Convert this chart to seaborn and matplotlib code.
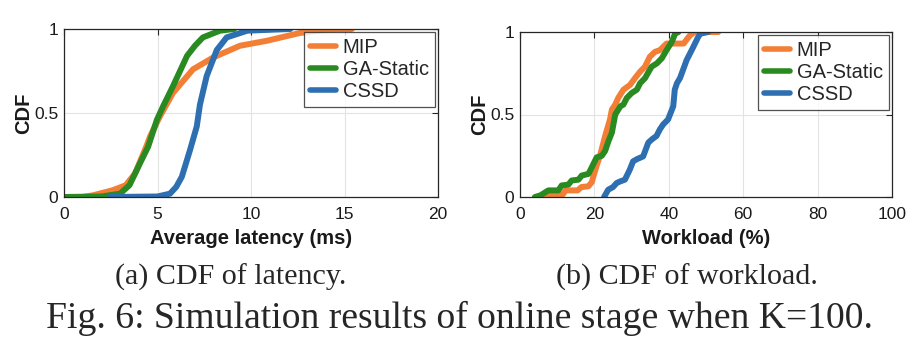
import numpy as np
import pandas as pd
import seaborn as sns
import matplotlib
matplotlib.use("Agg")
import matplotlib.pyplot as plt

# ---------------- data ----------------
methods = ["MIP", "GA-Static", "CSSD"]
colors = ["#F37F36", "#2A8A22", "#2D6FB0"]

# (a) latency CDF
lat_mip_x = [1.0, 1.55, 2.6, 3.3, 3.8, 4.4, 4.6, 5.13, 5.83, 6.9, 7.97, 9.4, 10.85, 12.6, 14.0, 15.4]
lat_mip_y = [0.0, 0.01, 0.04, 0.07, 0.14, 0.30, 0.36, 0.48, 0.62, 0.76, 0.83, 0.90, 0.93, 0.976, 0.995, 1.0]
lat_ga_x = [0.0, 2.0, 3.0, 3.5, 4.06, 4.5, 4.97, 5.3, 5.83, 6.58, 7.0, 7.43, 8.34, 9.1]
lat_ga_y = [0.0, 0.003, 0.02, 0.07, 0.20, 0.30, 0.46, 0.54, 0.66, 0.84, 0.90, 0.95, 0.99, 1.0]
lat_cssd_x = [2.46, 5.0, 5.67, 6.0, 6.3, 6.74, 7.1, 7.27, 7.63, 8.17, 8.7, 9.8, 12.1]
lat_cssd_y = [0.0, 0.003, 0.02, 0.06, 0.12, 0.28, 0.42, 0.55, 0.72, 0.875, 0.95, 0.99, 1.0]

# (b) workload CDF
wl_mip_x = [6.5, 8.0, 11.5, 12.3, 15.5, 16.5, 18.4, 19.3, 19.8, 20.6, 21.5, 22.2, 22.9, 23.4, 24.2,
            24.7, 25.6, 26.4, 27.8, 29.6, 30.9, 32.3, 33.6, 34.9, 36.3, 37.6, 39.4, 44.0, 45.0, 45.7,
            47.0, 53.3]
wl_mip_y = [0.0, 0.015, 0.015, 0.04, 0.04, 0.06, 0.065, 0.09, 0.13, 0.19, 0.25, 0.31, 0.37, 0.41, 0.47,
            0.53, 0.56, 0.60, 0.65, 0.68, 0.72, 0.76, 0.79, 0.85, 0.88, 0.89, 0.93, 0.93, 0.96, 0.98,
            1.0, 1.0]
wl_ga_x = [4.0, 5.5, 7.6, 10.3, 11.2, 13.0, 13.9, 15.7, 16.6, 18.4, 19.3, 20.6, 22.0, 22.9, 23.8, 24.7,
           25.6, 27.0, 27.8, 28.7, 30.0, 31.4, 32.3, 33.6, 34.6, 35.4, 36.8, 38.1, 39.4, 40.8, 41.7, 42.6]
wl_ga_y = [0.0, 0.01, 0.04, 0.04, 0.07, 0.075, 0.10, 0.105, 0.13, 0.14, 0.18, 0.24, 0.25, 0.28, 0.34, 0.39,
           0.50, 0.55, 0.56, 0.60, 0.63, 0.65, 0.69, 0.72, 0.76, 0.79, 0.81, 0.84, 0.89, 0.94, 0.99, 1.0]
wl_cssd_x = [22.6, 23.7, 25.0, 26.0, 27.0, 28.2, 29.5, 30.4, 31.5, 33.1, 34.5, 35.5, 36.7, 37.6, 38.5,
             39.8, 41.2, 41.6, 42.2, 43.0, 44.8, 46.6, 47.9, 48.5, 50.6]
wl_cssd_y = [0.0, 0.044, 0.06, 0.085, 0.095, 0.105, 0.165, 0.216, 0.23, 0.246, 0.33, 0.35, 0.37, 0.41, 0.44,
             0.47, 0.55, 0.65, 0.69, 0.72, 0.83, 0.91, 0.97, 0.99, 1.0]

x_ticks_a = [0, 5, 10, 15, 20]
x_ticks_b = [0, 20, 40, 60, 80, 100]
y_ticks = [0, 0.5, 1]
y_tick_labels = ["0", "0.5", "1"]


def make_df(xs, ys):
    frames = []
    for m, x, y in zip(methods, xs, ys):
        frames.append(pd.DataFrame({"x": x, "y": y, "method": m}))
    return pd.concat(frames, ignore_index=True)


df_a = make_df([lat_mip_x, lat_ga_x, lat_cssd_x], [lat_mip_y, lat_ga_y, lat_cssd_y])
df_b = make_df([wl_mip_x, wl_ga_x, wl_cssd_x], [wl_mip_y, wl_ga_y, wl_cssd_y])

# ---------------- style ----------------
sns.set_theme(style="white")
plt.rcParams["font.family"] = ["Liberation Sans", "DejaVu Sans"]

fig = plt.figure(figsize=(9.16, 3.44), dpi=100)
W, H = 916, 344
ax_a = fig.add_axes([64 / W, 1 - 197 / H, (438 - 64) / W, (197 - 29) / H])
ax_b = fig.add_axes([520 / W, 1 - 197 / H, (892 - 520) / W, (197 - 32) / H])

palette = dict(zip(methods, colors))


def style_axes(ax, xlim, xticks, xlabel):
    ax.set_xlim(*xlim)
    ax.set_ylim(0, 1)
    ax.set_xticks(xticks)
    ax.set_xticklabels([str(t) for t in xticks])
    ax.set_yticks(y_ticks)
    ax.set_yticklabels(y_tick_labels)
    ax.grid(True, color="#e3e3e3", linewidth=0.8)
    ax.set_axisbelow(True)
    for s in ax.spines.values():
        s.set_visible(True)
        s.set_color("#262626")
        s.set_linewidth(0.9)
    ax.tick_params(direction="in", length=4, width=0.8, top=True, right=True,
                   labelsize=12.5, colors="#262626")
    ax.tick_params(axis="x", pad=7)
    ax.tick_params(axis="y", pad=4)
    ax.tick_params(axis="both", labelcolor="#1a1a1a")
    ax.set_xlabel(xlabel, fontsize=14.5, fontweight="bold", labelpad=5, color="#1a1a1a")
    ax.set_ylabel("CDF", fontsize=14.5, fontweight="bold", labelpad=1, color="#1a1a1a")
    leg = ax.legend(loc="upper right", fontsize=14.5, frameon=True, fancybox=False,
                    handlelength=1.3, handletextpad=0.35, labelspacing=0.15,
                    borderpad=0.3, borderaxespad=0.15)
    leg.get_frame().set_edgecolor("#262626")
    leg.get_frame().set_linewidth(0.9)
    for h in leg.get_lines():
        h.set_linewidth(4.0)


sns.lineplot(data=df_a, x="x", y="y", hue="method", hue_order=methods, palette=palette,
             sort=False, linewidth=4.3, ax=ax_a, estimator=None)
sns.lineplot(data=df_b, x="x", y="y", hue="method", hue_order=methods, palette=palette,
             sort=False, linewidth=4.3, ax=ax_b, estimator=None)

for ln in ax_a.get_lines() + ax_b.get_lines():
    ln.set_solid_capstyle("round")
    ln.set_solid_joinstyle("round")

style_axes(ax_a, (0, 20), x_ticks_a, "Average latency (ms)")
style_axes(ax_b, (0, 100), x_ticks_b, "Workload (%)")

serif = ["Liberation Serif", "DejaVu Serif"]
fig.text(231 / W, 1 - 277 / H, "(a) CDF of latency.", ha="center", va="center",
         fontsize=21.6, family=serif)
fig.text(687 / W, 1 - 277 / H, "(b) CDF of workload.", ha="center", va="center",
         fontsize=21.6, family=serif)
fig.text(459 / W, 1 - 318 / H, "Fig. 6: Simulation results of online stage when K=100.",
         ha="center", va="center", fontsize=27.1, family=serif)

fig.savefig("out.png", dpi=100)
